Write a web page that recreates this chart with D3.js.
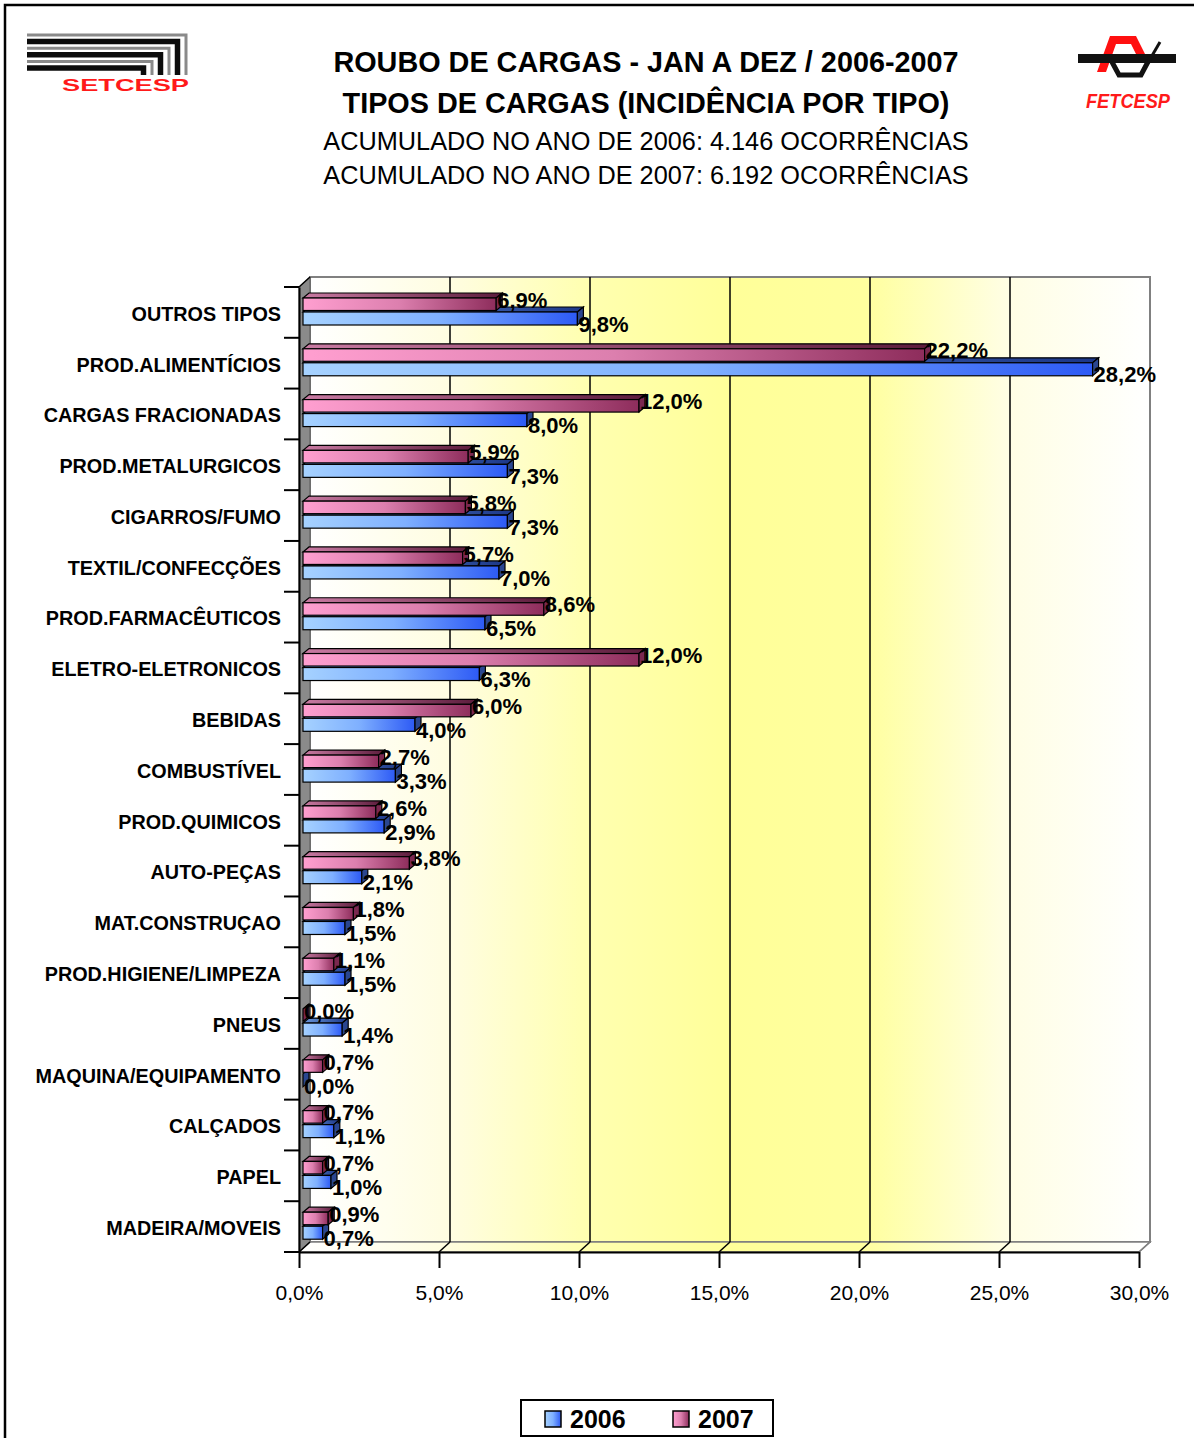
<!DOCTYPE html>
<html>
<head>
<meta charset="utf-8">
<script src="https://cdn.jsdelivr.net/npm/d3@7"></script>
<style>
  body { margin: 0; background: #fff; }
  svg { display: block; }
  text { font-family: "Liberation Sans", Arial, Helvetica, sans-serif; }
</style>
</head>
<body>
<svg id="chart" width="1194" height="1438"></svg>
<script>
// ---- data -------------------------------------------------------------
const categories = [
  "OUTROS TIPOS", "PROD.ALIMENTÍCIOS", "CARGAS FRACIONADAS", "PROD.METALURGICOS",
  "CIGARROS/FUMO", "TEXTIL/CONFECÇÕES", "PROD.FARMACÊUTICOS", "ELETRO-ELETRONICOS",
  "BEBIDAS", "COMBUSTÍVEL", "PROD.QUIMICOS", "AUTO-PEÇAS", "MAT.CONSTRUÇAO",
  "PROD.HIGIENE/LIMPEZA", "PNEUS", "MAQUINA/EQUIPAMENTO", "CALÇADOS", "PAPEL",
  "MADEIRA/MOVEIS"
];
const values2006 = [9.8, 28.2, 8.0, 7.3, 7.3, 7.0, 6.5, 6.3, 4.0, 3.3, 2.9, 2.1, 1.5, 1.5, 1.4, 0.0, 1.1, 1.0, 0.7];
const values2007 = [6.9, 22.2, 12.0, 5.9, 5.8, 5.7, 8.6, 12.0, 6.0, 2.7, 2.6, 3.8, 1.8, 1.1, 0.0, 0.7, 0.7, 0.7, 0.9];
const seriesNames = ["2006", "2007"];
const xTickValues = [0, 5, 10, 15, 20, 25, 30];
const titleLines = ["ROUBO DE CARGAS - JAN A DEZ / 2006-2007", "TIPOS DE CARGAS (INCIDÊNCIA POR TIPO)"];
const subtitleLines = ["ACUMULADO NO ANO DE 2006: 4.146 OCORRÊNCIAS", "ACUMULADO NO ANO DE 2007: 6.192 OCORRÊNCIAS"];

// ---- setup ------------------------------------------------------------
const svg = d3.select("#chart");
const defs = svg.append("defs");
const ptBR = d3.formatLocale({ decimal: ",", thousands: ".", grouping: [3], currency: ["R$", ""] });
const pct = v => ptBR.format(".1f")(v) + "%";

const plot = { left: 299, right: 1139, top: 287, bottom: 1252 };
const wallDepth = { dx: 11, dy: -10 };
const barDepth = { dx: 6, dy: -5 };
const barShift = 4;

const x = d3.scaleLinear().domain([0, 30]).range([plot.left, plot.right]);
const y = d3.scaleBand().domain(categories).range([plot.top, plot.bottom]);

function linGrad(id, stops) {
  const g = defs.append("linearGradient").attr("id", id)
    .attr("x1", 0).attr("y1", 0).attr("x2", 1).attr("y2", 0);
  stops.forEach(([o, c]) => g.append("stop").attr("offset", o).attr("stop-color", c));
}
linGrad("wallGrad", [[0, "#ffffff"], [0.17, "#fffde0"], [0.33, "#ffffb0"], [0.5, "#ffff99"],
                     [0.66, "#ffff9e"], [0.83, "#fffee4"], [1, "#ffffff"]]);
linGrad("blueFront", [[0, "#a6d2ff"], [0.5, "#7fb0ff"], [1, "#2d5af5"]]);
linGrad("blueTop", [[0, "#6a98dc"], [1, "#1c3788"]]);
linGrad("pinkFront", [[0, "#ff9fd0"], [0.5, "#dc7fae"], [1, "#8e2d5c"]]);
linGrad("pinkTop", [[0, "#c97aa2"], [1, "#5c1c3c"]]);

// ---- outer frame ------------------------------------------------------
svg.append("path").attr("d", "M5,1438V5H1194").attr("fill", "none")
  .attr("stroke", "#000").attr("stroke-width", 2.5);

// ---- titles -----------------------------------------------------------
const titles = svg.append("g").attr("text-anchor", "middle").attr("fill", "#000");
titles.selectAll("text.title").data(titleLines).join("text")
  .attr("class", "title").attr("x", 646).attr("y", (d, i) => 72 + i * 41)
  .attr("font-size", 28.8).attr("font-weight", "bold").text(d => d);
titles.selectAll("text.sub").data(subtitleLines).join("text")
  .attr("class", "sub").attr("x", 646).attr("y", (d, i) => 150 + i * 34)
  .attr("font-size", 25.3).text(d => d);

// ---- logos ------------------------------------------------------------
const logoL = svg.append("g");
for (let k = 0; k < 6; k++) {
  const yy = 35 + k * 6.6, xe = 186 - k * 8.5;
  logoL.append("path")
    .attr("d", `M27,${yy}H${xe}V${75}`)
    .attr("fill", "none")
    .attr("stroke", k % 2 === 0 ? "#8a8a8a" : "#0c0c0c")
    .attr("stroke-width", k % 2 === 0 ? 3 : 5.5);
}
logoL.append("text").attr("x", 62).attr("y", 91).attr("font-size", 17)
  .attr("font-weight", "bold").attr("font-family", "DejaVu Sans")
  .attr("textLength", 127).attr("lengthAdjust", "spacingAndGlyphs")
  .attr("fill", "#ff1a1a").text("SETCESP");

const logoR = svg.append("g");
logoR.append("path").attr("d", "M1097,72 L1110,36 L1136,36 L1145,54 L1136,54 L1131,44 L1116,44 L1106,72 Z")
  .attr("fill", "#ff1010");
logoR.append("rect").attr("x", 1078).attr("y", 54).attr("width", 98).attr("height", 9).attr("fill", "#111");
logoR.append("path").attr("d", "M1112,62 L1119,75 L1141,75 L1150,58")
  .attr("fill", "none").attr("stroke", "#111").attr("stroke-width", 5);
logoR.append("path").attr("d", "M1146,66 L1160,42").attr("stroke", "#111").attr("stroke-width", 3);
logoR.append("text").attr("x", 1086).attr("y", 108).attr("font-size", 21)
  .attr("font-weight", "bold").attr("font-style", "italic")
  .attr("textLength", 84).attr("lengthAdjust", "spacingAndGlyphs")
  .attr("fill", "#ff1a1a").text("FETCESP");

// ---- 3D walls ---------------------------------------------------------
const walls = svg.append("g");
const bx0 = plot.left + wallDepth.dx, bx1 = plot.right + wallDepth.dx;
const by0 = plot.top + wallDepth.dy, by1 = plot.bottom + wallDepth.dy;
walls.append("rect").attr("x", bx0).attr("y", by0).attr("width", bx1 - bx0).attr("height", by1 - by0)
  .attr("fill", "url(#wallGrad)").attr("stroke", "#808080").attr("stroke-width", 2);
walls.append("path")
  .attr("d", `M${plot.left},${plot.bottom}L${bx0},${by1}H${bx1}L${plot.right},${plot.bottom}Z`)
  .attr("fill", "url(#wallGrad)").attr("stroke", "#808080").attr("stroke-width", 1.5);
walls.append("path")
  .attr("d", `M${plot.left},${plot.top}L${bx0},${by0}V${by1}L${plot.left},${plot.bottom}Z`)
  .attr("fill", "#8a8a8a").attr("stroke", "#5a5a5a").attr("stroke-width", 1);

// back-wall gridlines and their floor diagonals
walls.selectAll("line.grid").data(xTickValues.filter(t => t > 0 && t < 30)).join("line")
  .attr("class", "grid")
  .attr("x1", d => x(d) + wallDepth.dx).attr("x2", d => x(d) + wallDepth.dx)
  .attr("y1", by0).attr("y2", by1).attr("stroke", "#000").attr("stroke-width", 1.5);
walls.selectAll("line.diag").data(xTickValues).join("line")
  .attr("class", "diag")
  .attr("x1", d => x(d)).attr("y1", plot.bottom)
  .attr("x2", d => x(d) + wallDepth.dx).attr("y2", by1)
  .attr("stroke", d => d === 30 ? "#808080" : "#000").attr("stroke-width", 1.5);
walls.append("line").attr("x1", plot.left).attr("y1", plot.top)
  .attr("x2", bx0).attr("y2", by0).attr("stroke", "#000").attr("stroke-width", 1.5);

// ---- bars -------------------------------------------------------------
function drawBar(g, v, top, h, front, topFill, capFill) {
  const x0 = x(0) + barShift, x1 = x(v) + barShift;
  const { dx, dy } = barDepth;
  g.append("path")
    .attr("d", `M${x0},${top}L${x0 + dx},${top + dy}H${x1 + dx}L${x1},${top}Z`)
    .attr("fill", topFill).attr("stroke", "#000").attr("stroke-width", 1.2);
  g.append("rect").attr("x", x0).attr("y", top).attr("width", x1 - x0).attr("height", h)
    .attr("fill", front).attr("stroke", "#000").attr("stroke-width", 1.2);
  g.append("path")
    .attr("d", `M${x1},${top}L${x1 + dx},${top + dy}V${top + h + dy}L${x1},${top + h}Z`)
    .attr("fill", capFill).attr("stroke", "#000").attr("stroke-width", 1.2);
}

const bars = svg.append("g");
categories.forEach((c, i) => {
  const y0 = y(c);
  const g = bars.append("g");
  drawBar(g, values2006[i], y0 + 25, 13, "url(#blueFront)", "url(#blueTop)", "#2a4690");
  drawBar(g, values2007[i], y0 + 11, 12.5, "url(#pinkFront)", "url(#pinkTop)", "#7a2850");
});

// ---- data labels -------------------------------------------------------
const labels = svg.append("g").attr("font-size", 22).attr("font-weight", "bold").attr("fill", "#000");
categories.forEach((c, i) => {
  const y0 = y(c);
  labels.append("text").attr("x", x(values2007[i]) + barShift + 1).attr("y", y0 + 13)
    .attr("dy", "0.35em").text(pct(values2007[i]));
  labels.append("text").attr("x", x(values2006[i]) + barShift + 1).attr("y", y0 + 37)
    .attr("dy", "0.35em").text(pct(values2006[i]));
});

// ---- axes -------------------------------------------------------------
const xAxis = svg.append("g").attr("transform", `translate(0,${plot.bottom})`)
  .call(d3.axisBottom(x).tickValues(xTickValues).tickFormat(pct)
    .tickSize(16).tickSizeOuter(0).tickPadding(17));
xAxis.select(".domain").attr("stroke", "#000").attr("stroke-width", 2);
xAxis.selectAll(".tick line").attr("stroke", "#000").attr("stroke-width", 2);
xAxis.selectAll(".tick text").attr("font-size", 21).attr("fill", "#000")
  .attr("font-family", "'Liberation Sans', Arial, sans-serif");

const yAxis = svg.append("g").attr("transform", `translate(${plot.left},0)`)
  .call(d3.axisLeft(y).tickSize(0).tickSizeOuter(0).tickPadding(18));
yAxis.select(".domain").attr("stroke", "#000").attr("stroke-width", 2);
yAxis.selectAll(".tick text").attr("font-size", 19.8).attr("font-weight", "bold")
  .attr("fill", "#000").attr("dy", "0.42em")
  .attr("font-family", "'Liberation Sans', Arial, sans-serif");
yAxis.selectAll("line.bound").data(d3.range(categories.length + 1)).join("line")
  .attr("class", "bound")
  .attr("x1", -15).attr("x2", 0)
  .attr("y1", d => plot.top + d * y.step()).attr("y2", d => plot.top + d * y.step())
  .attr("stroke", "#000").attr("stroke-width", 2);

// ---- legend -----------------------------------------------------------
const legend = svg.append("g");
legend.append("rect").attr("x", 521).attr("y", 1400).attr("width", 252).attr("height", 36)
  .attr("fill", "#fff").attr("stroke", "#000").attr("stroke-width", 2);
const legendItems = legend.selectAll("g.item").data(seriesNames).join("g")
  .attr("class", "item").attr("transform", (d, i) => `translate(${545 + i * 128},1411)`);
legendItems.append("rect").attr("width", 16).attr("height", 16)
  .attr("fill", (d, i) => i === 0 ? "url(#blueFront)" : "url(#pinkFront)")
  .attr("stroke", "#000").attr("stroke-width", 1.5);
legendItems.append("text").attr("x", 25).attr("y", 16.5).attr("font-size", 25)
  .attr("font-weight", "bold").attr("fill", "#000").text(d => d);
</script>
</body>
</html>
